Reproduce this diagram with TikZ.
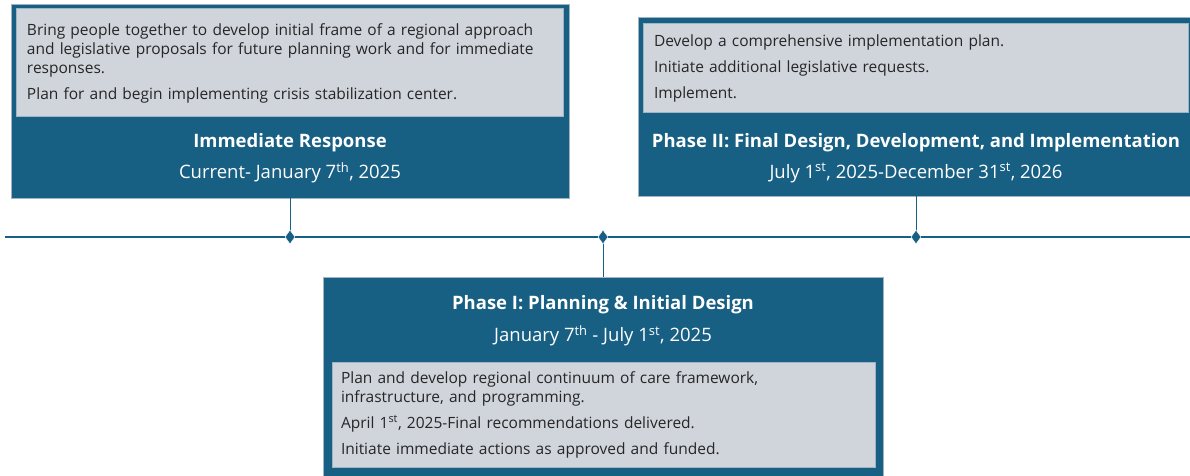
\documentclass[tikz,border=0pt]{standalone}
\usepackage{fontspec}
\setmainfont{Open Sans}
\usetikzlibrary{shapes.geometric}
\usetikzlibrary{positioning}
\definecolor{phaseblue}{HTML}{175F83}
\definecolor{notegray}{HTML}{D0D5DC}
\definecolor{noteedge}{HTML}{9FB5C5}
\tikzset{phase/.style = {fill=phaseblue, draw=noteedge, line width=0.8pt, inner sep=0}}
\tikzset{note/.style = {fill=notegray, draw=noteedge, line width=1pt, inner xsep=11pt, inner ysep=0,
                        align=left, font=\fontsize{15.5}{19}\selectfont, text=black!85}}
\tikzset{heading/.style = {text=white, font=\fontsize{18.5}{21}\selectfont\bfseries}}
\tikzset{when/.style = {text=white, font=\fontsize{18.5}{21}\selectfont}}
\tikzset{milestone/.style = {diamond, fill=phaseblue, draw=white, line width=0.4pt, inner sep=0,
                             minimum width=10pt, minimum height=14pt}}
\tikzset{timeline/.style = {draw=phaseblue, line width=2.2pt}}
\tikzset{link/.style = {draw=phaseblue, line width=0.9pt}}

\begin{document}
\begin{tikzpicture}[x=1pt, y=-1pt]
    \useasboundingbox (0,0) rectangle (1190,476);
    \node [phase, minimum width=558pt, minimum height=194pt] (imm) at (290, 101) {};
    \node [phase, minimum width=556pt, minimum height=179pt] (ph2) at (916, 106.5) {};
    \node [phase, minimum width=560pt, minimum height=202pt] (ph1) at (603, 378) {};
    \node [note, text width=525pt, minimum height=108pt] (immnote) at (289.5, 63)
      {Bring people together to develop initial frame of a regional approach\\
       and legislative proposals for future planning work and for immediate\\
       responses.\\[7pt]
       Plan for and begin implementing crisis stabilization center.};
    \node [note, text width=523pt, minimum height=89pt] (ph2note) at (915.5, 68.5)
      {Develop a comprehensive implementation plan.\\[7pt]
       Initiate additional legislative requests.\\[7pt]
       Implement.};
    \node [note, text width=525pt, inner xsep=9pt, minimum height=105pt] (ph1note) at (603.5, 414.5)
      {Plan and develop regional continuum of care framework,\\
       infrastructure, and programming.\\[7pt]
       April 1\textsuperscript{st}, 2025-Final recommendations delivered.\\[7pt]
       Initiate immediate actions as approved and funded.};
    \node [heading] (immtitle) at (290, 142.5) {Immediate Response};
    \node [when] (immdate) at (290, 173) {Current- January 7\textsuperscript{th}, 2025};
    \node [heading] (ph2title) at (916, 142.5) {Phase II: Final Design, Development, and Implementation};
    \node [when] (ph2date) at (916, 173) {July 1\textsuperscript{st}, 2025-December 31\textsuperscript{st}, 2026};
    \node [heading] (ph1title) at (603, 304.5) {Phase I: Planning \& Initial Design};
    \node [when] (ph1date) at (603, 336) {January 7\textsuperscript{th} - July 1\textsuperscript{st}, 2025};
    \coordinate (tl) at (5, 237);
    \coordinate (tr) at (1190, 237);
    \draw [timeline] (tl) -- (tr);
    \draw [link] (imm.south) -- (290, 237);
    \draw [link] (ph1.north) -- (603, 237);
    \draw [link] (ph2.south) -- (916, 237);
    \node [milestone] (m0) at (290, 237) {};
    \node [milestone] (m1) at (603, 237) {};
    \node [milestone] (m2) at (916, 237) {};
  \end{tikzpicture}
\end{document}
